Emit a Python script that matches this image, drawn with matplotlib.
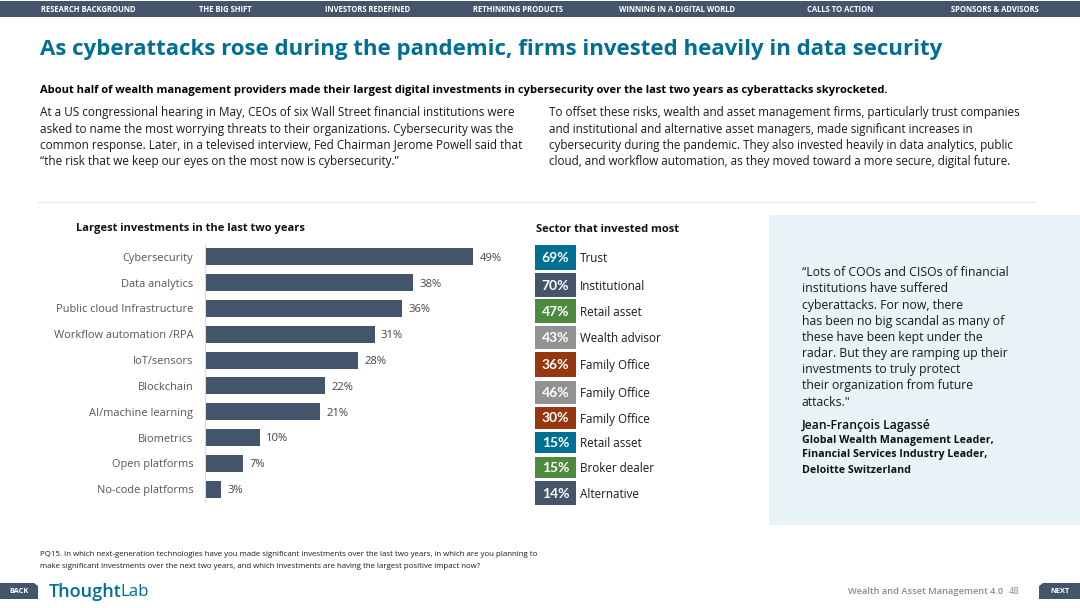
import matplotlib
matplotlib.use("Agg")
import matplotlib.pyplot as plt
from matplotlib.patches import Rectangle, Polygon

plt.rcParams['font.family'] = ['Open Sans', 'DejaVu Sans']

NAVY = '#44546A'
TEAL = '#006F94'
GREEN = '#4C8A3E'
GREY = '#929292'
RUST = '#97370F'
TEXT = '#1a1a1a'

nav_items = ['RESEARCH BACKGROUND', 'THE BIG SHIFT', 'INVESTORS REDEFINED', 'RETHINKING PRODUCTS',
             'WINNING IN A DIGITAL WORLD', 'CALLS TO ACTION', 'SPONSORS & ADVISORS']
nav_x = [41, 199, 325, 473, 619, 807, 951]

title = 'As cyberattacks rose during the pandemic, firms invested heavily in data security'
lead = ('About half of wealth management providers made their largest digital investments in cybersecurity '
        'over the last two years as cyberattacks skyrocketed.')
left_par = ['At a US congressional hearing in May, CEOs of six Wall Street financial institutions were',
            'asked to name the most worrying threats to their organizations. Cybersecurity was the',
            'common response. Later, in a televised interview, Fed Chairman Jerome Powell said that',
            '“the risk that we keep our eyes on the most now is cybersecurity.”']
right_par = ['To offset these risks, wealth and asset management firms, particularly trust companies',
             'and institutional and alternative asset managers, made significant increases in',
             'cybersecurity during the pandemic. They also invested heavily in data analytics, public',
             'cloud, and workflow automation, as they moved toward a more secure, digital future.']

categories = ['Cybersecurity', 'Data analytics', 'Public cloud Infrastructure', 'Workflow automation /RPA',
              'IoT/sensors', 'Blockchain', 'AI/machine learning', 'Biometrics', 'Open platforms',
              'No-code platforms']
values = [49, 38, 36, 31, 28, 22, 21, 10, 7, 3]

sector_values = [69, 70, 47, 43, 36, 46, 30, 15, 15, 14]
sector_names = ['Trust', 'Institutional', 'Retail asset', 'Wealth advisor', 'Family Office',
                'Family Office', 'Family Office', 'Retail asset', 'Broker dealer', 'Alternative']
sector_colors = [TEAL, NAVY, GREEN, GREY, RUST, GREY, RUST, TEAL, GREEN, NAVY]
sector_top = [245, 273, 299, 326, 352, 381, 407, 432, 457, 481]
sector_h = [25, 24, 24, 23, 25, 23, 22, 21, 21, 24]

quote = ['“Lots of COOs and CISOs of financial', 'institutions have suffered', 'cyberattacks. For now, there',
         'has been no big scandal as many of', 'these have been kept under the', 'radar. But they are ramping up their',
         'investments to truly protect', 'their organization from future', 'attacks."']
quote_y = [272, 289, 305, 321, 337, 353, 370, 386, 402]
author = 'Jean-François Lagassé'
author_role = ['Global Wealth Management Leader,', 'Financial Services Industry Leader,', 'Deloitte Switzerland']
footnote = ['PQ15. In which next-generation technologies have you made significant investments over the last two years, in which are you planning to',
            'make significant investments over the next two years, and which investments are having the largest positive impact now?']

W, H = 1080, 608
fig = plt.figure(figsize=(W / 100, H / 100), dpi=100, facecolor='white')
pg = fig.add_axes([0, 0, 1, 1])
pg.set_xlim(0, W)
pg.set_ylim(H, 0)
pg.axis('off')


def T(x, y, s, size, color=TEXT, weight='normal', ha='left', **kw):
    return pg.text(x, y, s, fontsize=size, color=color, fontweight=weight, ha=ha, va='center', **kw)


# Navigation
pg.add_patch(Rectangle((0, 1), W, 16, fc=NAVY, ec='none'))
for x, s in zip(nav_x, nav_items):
    T(x, 9, s, 5.5, 'white', 'bold')

# Header text
T(40, 49.5, title, 16.0, TEAL, 'bold')
T(40, 90.5, lead, 8.0, '#000000', 'bold')
for y, s in zip([112.5, 129, 145, 161.5], left_par):
    T(40, y, s, 8.45)
for y, s in zip([112.5, 129, 145, 161.5], right_par):
    T(549, y, s, 8.42)
pg.plot([38, 1035], [201.5, 201.5], color='#E8E8E8', lw=0.8)

# Bar chart
ax = fig.add_axes([205 / W, 1 - 502 / H, 290 / W, 258 / H])
y = list(range(len(values)))
ax.barh(y, values, height=0.66, color=NAVY)
ax.set_xlim(0, 290 / 5.47)
ax.set_ylim(9.5, -0.5)
ax.set_yticks(y, categories)
ax.set_xticks([])
ax.tick_params(axis='y', length=0, pad=8.5, labelsize=7.9, labelcolor='#555555')
for s in ['top', 'right', 'bottom']:
    ax.spines[s].set_visible(False)
ax.spines['left'].set_color('#D9D9D9')
ax.spines['left'].set_linewidth(0.8)
ax.patch.set_alpha(0)
for yi, v in zip(y, values):
    ax.annotate(f'{v}%', (v, yi), xytext=(4.5, -1), textcoords='offset points', va='center',
                fontsize=8.1, color='#444444')

T(76, 228, 'Largest investments in the last two years', 8.0, '#111111', 'bold')
T(536, 229, 'Sector that invested most', 8.0, '#111111', 'bold')

# Sector table
for v, n, c, t, h in zip(sector_values, sector_names, sector_colors, sector_top, sector_h):
    pg.add_patch(Rectangle((535, t), 41, h, fc=c, ec='none'))
    T(555.5, t + h / 2 + 0.5, f'{v}%', 10.0, 'white', 'bold', ha='center', family=['Lato', 'DejaVu Sans'])
    T(580, t + h / 2 + 1, n, 8.4)

# Quote panel
pg.add_patch(Rectangle((769, 215), 311, 310, fc='#E8F3F7', ec='none'))
for y_, s in zip(quote_y, quote):
    T(802, y_, s, 8.85)
T(802, 425, author, 8.8, '#111111', 'semibold')
for y_, s in zip([440, 455, 470.5], author_role):
    T(802, y_, s, 7.65, '#111111', 'bold')

# Footnote
for y_, s in zip([554.5, 566], footnote):
    T(40, y_, s, 5.68)

# Footer
pg.add_patch(Polygon([(0, 583), (34, 583), (38, 586), (38, 599), (0, 599)], fc=NAVY, ec='none'))
T(19, 591.5, 'BACK', 5.3, 'white', 'bold', ha='center')
pg.add_patch(Polygon([(1043, 583), (1080, 583), (1080, 599), (1039, 599), (1039, 586)], fc=NAVY, ec='none'))
T(1060, 591.5, 'NEXT', 5.3, 'white', 'bold', ha='center')
T(49, 592, 'Thought', 13.0, TEAL, 'semibold')
T(120, 592, 'Lab', 12.2, TEAL, 'normal')
T(1003, 591.5, 'Wealth and Asset Management 4.0', 6.7, '#8a8a8a', 'semibold', ha='right')
T(1014, 591.5, '48', 6.7, '#8a8a8a', 'normal', ha='center')

fig.savefig('out.png', dpi=100, facecolor='white')
